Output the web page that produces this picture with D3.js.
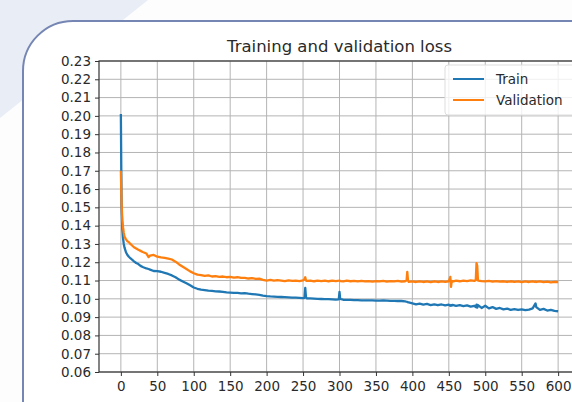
<!DOCTYPE html>
<html>
<head>
<meta charset="utf-8">
<script src="https://cdn.jsdelivr.net/npm/d3@7"></script>
<style>
  html, body { margin: 0; padding: 0; background: #fdfdfe; }
  svg { display: block; font-family: "DejaVu Sans", sans-serif; }
</style>
</head>
<body>
<svg id="chart" width="572" height="402"></svg>
<script>
const title = "Training and validation loss";
const seriesNames = ["Train", "Validation"];
const xTicks = [0, 50, 100, 150, 200, 250, 300, 350, 400, 450, 500, 550, 600];
const yTicks = [0.06, 0.07, 0.08, 0.09, 0.10, 0.11, 0.12, 0.13, 0.14, 0.15, 0.16, 0.17, 0.18, 0.19, 0.20, 0.21, 0.22, 0.23];

const epochs = [0,1,2,3,4,5,7,9,11,13,15,18,21,24,27,30,35,38,40,45,50,55,60,65,70,75,80,85,90,95,100,
  105,110,115,120,125,130,135,140,145,150,155,160,165,170,175,180,185,190,195,200,
  205,210,215,220,225,230,235,240,245,250,252,253,254,255,260,265,270,275,280,285,290,295,299,300,301,
  305,310,315,320,325,330,335,340,345,350,355,360,365,370,375,380,385,390,392,393,394,395,
  400,405,410,415,420,425,430,435,440,445,450,452,453,454,455,460,465,470,475,480,485,487,488,489,490,
  495,500,505,510,515,520,525,530,535,540,545,550,555,560,565,568,569,570,575,580,585,590,595,600];

const trainLoss = [0.201,0.150,0.138,0.133,0.130,0.128,0.1255,0.1240,0.1230,0.1222,0.1215,0.1205,0.1196,0.1190,0.1180,0.1174,0.1166,0.1163,0.1160,0.1152,0.1151,0.1148,0.1142,0.1136,0.1128,0.1118,0.1105,0.1095,0.1085,0.1074,0.1062,
  0.1055,0.1050,0.1048,0.1045,0.1043,0.1041,0.1040,0.1038,0.1035,0.1034,0.1033,0.1032,0.1030,0.1031,0.1028,0.1026,0.1024,0.1022,0.1018,0.1015,
  0.1013,0.1012,0.1011,0.1010,0.1009,0.1008,0.1007,0.1006,0.1005,0.1004,0.1005,0.1060,0.1010,0.1003,0.1002,0.1001,0.1000,0.0999,0.0998,0.0998,0.0997,0.0996,0.0997,0.1038,0.0999,
  0.0995,0.0994,0.0994,0.0993,0.0993,0.0992,0.0992,0.0991,0.0991,0.0990,0.0990,0.0991,0.0990,0.0989,0.0989,0.0988,0.0988,0.0986,0.0984,0.0983,0.0981,0.0980,
  0.0975,0.0970,0.0974,0.0968,0.0972,0.0966,0.0970,0.0965,0.0969,0.0964,0.0968,0.0962,0.0966,0.0963,0.0967,0.0961,0.0966,0.0960,0.0964,0.0957,0.0962,0.0955,0.0968,0.0952,0.0966,
  0.0950,0.0962,0.0948,0.0955,0.0945,0.0950,0.0942,0.0946,0.0940,0.0944,0.0939,0.0942,0.0938,0.0941,0.0948,0.0968,0.0975,0.0955,0.0940,0.0945,0.0936,0.0940,0.0934,0.0932];

const valLoss = [0.170,0.152,0.143,0.139,0.136,0.134,0.1325,0.1315,0.1310,0.1300,0.1293,0.1282,0.1275,0.1268,0.1262,0.1256,0.1248,0.1228,0.1236,0.1240,0.1230,0.1226,0.1224,0.1220,0.1215,0.1203,0.1188,0.1175,0.1163,0.1150,0.1140,
  0.1132,0.1130,0.1125,0.1128,0.1122,0.1124,0.1120,0.1122,0.1118,0.1120,0.1116,0.1118,0.1114,0.1115,0.1111,0.1113,0.1109,0.1110,0.1104,0.1100,
  0.1103,0.1099,0.1102,0.1100,0.1097,0.1101,0.1098,0.1100,0.1097,0.1101,0.1108,0.1118,0.1100,0.1098,0.1100,0.1096,0.1099,0.1097,0.1100,0.1096,0.1099,0.1097,0.1099,0.1100,0.1097,
  0.1095,0.1099,0.1096,0.1098,0.1095,0.1098,0.1095,0.1097,0.1094,0.1097,0.1095,0.1098,0.1094,0.1097,0.1095,0.1098,0.1094,0.1096,0.1100,0.1147,0.1100,0.1093,
  0.1095,0.1092,0.1096,0.1092,0.1095,0.1091,0.1096,0.1092,0.1095,0.1093,0.1096,0.1120,0.1065,0.1098,0.1094,0.1099,0.1096,0.1100,0.1097,0.1101,0.1098,0.1102,0.1195,0.1180,0.1100,
  0.1097,0.1095,0.1098,0.1094,0.1097,0.1094,0.1096,0.1092,0.1096,0.1093,0.1095,0.1091,0.1095,0.1092,0.1096,0.1093,0.1095,0.1092,0.1096,0.1091,0.1094,0.1090,0.1093,0.1092];

const colors = ["#1f77b4", "#ff7f0e"];

const svg = d3.select("#chart");

// background decoration
svg.append("rect").attr("width", 572).attr("height", 402).attr("fill", "#fdfdfe");
svg.append("path").attr("d", "M0,0 L148,0 L0,118 Z").attr("fill", "#e9edf5");
// card
svg.append("rect")
  .attr("x", 23).attr("y", 21).attr("width", 640).attr("height", 480)
  .attr("rx", 50).attr("ry", 50)
  .attr("fill", "#ffffff").attr("stroke", "#7686b4").attr("stroke-width", 2);

const plot = { left: 99, right: 580, top: 61, bottom: 372 };
const x = d3.scaleLinear().domain([-30, 630]).range([plot.left, plot.right]);
const y = d3.scaleLinear().domain([0.06, 0.23]).range([plot.bottom, plot.top]);

// grid
const g = svg.append("g");
g.selectAll("line.vg").data(xTicks).enter().append("line")
  .attr("x1", d => x(d)).attr("x2", d => x(d))
  .attr("y1", plot.top).attr("y2", plot.bottom)
  .attr("stroke", "#b4b4b4").attr("stroke-width", 1);
g.selectAll("line.hg").data(yTicks).enter().append("line")
  .attr("x1", plot.left).attr("x2", plot.right)
  .attr("y1", d => y(d)).attr("y2", d => y(d))
  .attr("stroke", "#b4b4b4").attr("stroke-width", 1);

// lines
const series = [trainLoss, valLoss];
const line = d3.line().x((d, i) => x(epochs[i])).y(d => y(d));
series.forEach((s, k) => {
  svg.append("path").datum(s)
    .attr("d", line)
    .attr("fill", "none")
    .attr("stroke", colors[k])
    .attr("stroke-width", 2.3)
    .attr("stroke-linejoin", "round");
});

// axes
const xAxis = d3.axisBottom(x).tickValues(xTicks).tickSize(4).tickPadding(5).tickFormat(d3.format("d"));
const yAxis = d3.axisLeft(y).tickValues(yTicks).tickSize(4).tickPadding(4).tickFormat(d3.format(".2f"));
const gx = svg.append("g").attr("transform", `translate(0,${plot.bottom})`).call(xAxis);
const gy = svg.append("g").attr("transform", `translate(${plot.left},0)`).call(yAxis);
[gx, gy].forEach(a => {
  a.select(".domain").remove();
  a.selectAll("line").attr("stroke", "#333");
  a.selectAll("text").attr("fill", "#2a2a2a").style("font-size", "13.5px").style("font-family", "DejaVu Sans");
});
// spines
svg.append("rect")
  .attr("x", plot.left).attr("y", plot.top)
  .attr("width", plot.right - plot.left).attr("height", plot.bottom - plot.top)
  .attr("fill", "none").attr("stroke", "#333").attr("stroke-width", 1.2);

// title
svg.append("text")
  .attr("x", (plot.left + plot.right) / 2).attr("y", 52)
  .attr("text-anchor", "middle")
  .attr("fill", "#2a2a2a")
  .style("font-size", "16.5px")
  .text(title);

// legend
const lg = svg.append("g");
lg.append("rect")
  .attr("x", 445).attr("y", 65).attr("width", 140).attr("height", 50)
  .attr("rx", 3)
  .attr("fill", "#ffffff").attr("fill-opacity", 0.8)
  .attr("stroke", "#dddddd").attr("stroke-width", 1);
seriesNames.forEach((name, k) => {
  const yy = 79 + k * 21;
  lg.append("line").attr("x1", 453).attr("x2", 484).attr("y1", yy).attr("y2", yy)
    .attr("stroke", colors[k]).attr("stroke-width", 2);
  lg.append("text").attr("x", 496).attr("y", yy).attr("dy", "0.35em")
    .attr("fill", "#2a2a2a").style("font-size", "13.5px").text(name);
});
</script>
</body>
</html>
